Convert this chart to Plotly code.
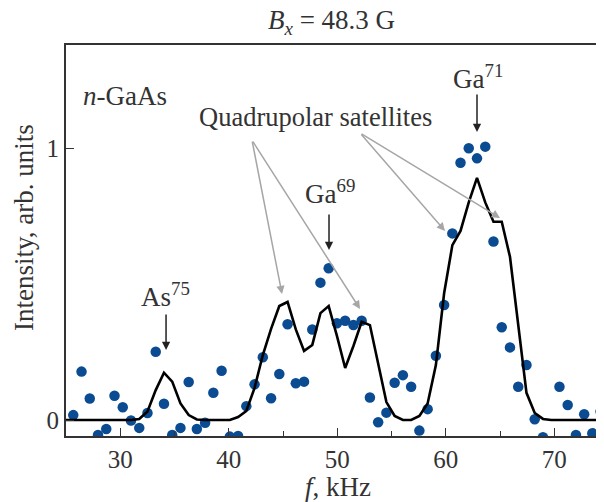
import plotly.graph_objects as go

# measured points
pts_x = [25.67, 26.43, 27.19, 27.95, 28.71, 29.47, 30.23, 30.99, 31.75, 32.51,
         33.27, 34.03, 34.79, 35.55, 36.31, 37.06, 37.82, 38.58, 39.34, 40.10,
         40.86, 41.62, 42.38, 43.14, 43.90, 44.66, 45.42, 46.18, 46.94, 47.70,
         48.45, 49.21, 49.97, 50.73, 51.49, 52.25, 53.01, 53.77, 54.53, 55.29,
         56.05, 56.81, 57.57, 58.33, 59.09, 59.85, 60.61, 61.36, 62.12, 62.88,
         63.64, 64.40, 65.16, 65.92, 66.68, 67.44, 68.20, 68.96, 70.48, 71.24,
         72.00, 72.76, 73.51, 74.27]
pts_y = [0.018, 0.178, 0.079, -0.055, -0.033, 0.089, 0.047, -0.002, -0.029, 0.026,
         0.251, 0.060, -0.055, -0.029, 0.140, -0.033, -0.010, 0.100, 0.181, -0.061,
         -0.059, 0.051, 0.131, 0.231, 0.080, 0.169, 0.352, 0.135, 0.141, 0.333,
         0.505, 0.558, 0.356, 0.365, 0.349, 0.365, 0.083, -0.008, 0.027, 0.137,
         0.165, 0.122, -0.039, 0.040, 0.236, 0.423, 0.686, 0.946, 0.999, 0.962,
         1.005, 0.656, 0.341, 0.267, 0.122, 0.202, 0.003, -0.063, 0.122, 0.055,
         -0.055, 0.021, -0.049, 0.031]

# fitted curve
fit_x = [25.00, 25.67, 26.43, 27.19, 27.95, 28.71, 29.47, 30.23, 30.99, 31.75, 32.51,
         33.27, 34.03, 34.79, 35.55, 36.31, 37.06, 37.82, 38.58, 39.34, 40.10,
         40.86, 41.62, 42.38, 43.14, 43.90, 44.66, 45.42, 46.18, 46.94, 47.70,
         48.45, 49.21, 49.97, 50.73, 51.49, 52.25, 53.01, 53.77, 54.53, 55.29,
         56.05, 56.81, 57.57, 58.33, 59.09, 59.85, 60.61, 61.36, 62.12, 62.88,
         63.64, 64.40, 65.16, 65.92, 66.68, 67.44, 68.20, 68.96, 69.72, 70.48,
         71.24, 72.00, 72.76, 73.51, 74.27, 75.03]
fit_y = [0, 0, 0, 0, 0, 0, 0, 0, 0, 0.004, 0.031,
         0.110, 0.174, 0.141, 0.061, 0.018, 0.002, 0, 0, 0, 0,
         0.011, 0.033, 0.118, 0.239, 0.335, 0.419, 0.434, 0.333, 0.254, 0.276,
         0.393, 0.419, 0.309, 0.191, 0.272, 0.361, 0.349, 0.202, 0.066, 0.015,
         0, 0, 0.015, 0.061, 0.202, 0.466, 0.643, 0.695, 0.800, 0.890,
         0.800, 0.729, 0.729, 0.600, 0.346, 0.100, 0.026, 0.004, 0, 0,
         0, 0, 0, 0, 0, 0]

x_ticks = [30, 40, 50, 60, 70]
y_ticks = [0, 1]

FONT = "Liberation Serif"
TXT = "#333333"

fig = go.Figure()
fig.add_trace(go.Scatter(x=pts_x, y=pts_y, mode="markers",
                         marker=dict(size=10.5, color="#0a4b91"),
                         showlegend=False, hoverinfo="skip"))
fig.add_trace(go.Scatter(x=fit_x, y=fit_y, mode="lines",
                         line=dict(color="black", width=2.6),
                         showlegend=False, hoverinfo="skip"))

ann = []
def label(x, y, text, size=27, xanchor="center"):
    ann.append(dict(x=x, y=y, xref="x", yref="y", text=text, showarrow=False,
                    xanchor=xanchor, yanchor="middle",
                    font=dict(family=FONT, size=size, color=TXT)))

def arrow(x, y, ax, ay, color, width=1.5):
    ann.append(dict(x=x, y=y, ax=ax, ay=ay, xref="x", yref="y", axref="x", ayref="y",
                    text="", showarrow=True, arrowhead=2, arrowsize=1.1,
                    arrowwidth=width, arrowcolor=color, standoff=0, startstandoff=0))

label(26.4, 1.19, "<i>n</i>-GaAs", xanchor="left")
label(47.95, 1.115, "Quadrupolar satellites", size=26.5)
label(49.37, 0.84, "Ga<sup>69</sup>")
label(62.97, 1.26, "Ga<sup>71</sup>")
label(34.2, 0.461, "As<sup>75</sup>")

arrow(34.22, 0.257, 34.22, 0.393, "#222222")
arrow(49.24, 0.625, 49.24, 0.761, "#222222")
arrow(62.88, 1.059, 62.88, 1.202, "#222222")

arrow(44.91, 0.463, 42.14, 1.029, "#a6a6a6")
arrow(52.10, 0.408, 42.14, 1.029, "#a6a6a6")
arrow(59.93, 0.695, 52.10, 1.055, "#a6a6a6")
arrow(65.00, 0.743, 52.10, 1.055, "#a6a6a6")

# title and axis titles
ann.append(dict(x=0.4926, y=1.058, xref="paper", yref="paper", showarrow=False,
                text="<i>B<sub>x</sub></i> = 48.3 G", xanchor="center", yanchor="middle",
                font=dict(family=FONT, size=27, color=TXT)))
ann.append(dict(x=0.5056, y=-0.13, xref="paper", yref="paper", showarrow=False,
                text="<i>f</i>, kHz", xanchor="center", yanchor="middle",
                font=dict(family=FONT, size=27, color=TXT)))
ann.append(dict(x=-0.078, y=0.532, xref="paper", yref="paper", showarrow=False,
                text="Intensity, arb. units", textangle=-90,
                xanchor="center", yanchor="middle",
                font=dict(family=FONT, size=27, color=TXT)))

# page body has an 8px margin: the drawing is shifted up/left by 8px to compensate
fig.update_layout(
    width=596, height=494,
    margin=dict(l=58, r=0, t=37, b=66, autoexpand=False),
    paper_bgcolor="white", plot_bgcolor="white",
    annotations=ann,
    xaxis=dict(range=[25, 74.585], tickvals=x_ticks, ticks="inside", ticklen=8,
               tickwidth=1.3, tickcolor=TXT,
               minor=dict(dtick=5, tick0=0, ticks="inside", ticklen=5, tickwidth=1.3, tickcolor=TXT),
               showline=True, linecolor=TXT, linewidth=2.2, mirror=True,
               showgrid=False, zeroline=False,
               tickfont=dict(family=FONT, size=25, color=TXT)),
    yaxis=dict(range=[-0.0588, 1.3787], tickvals=y_ticks, ticks="inside", ticklen=8,
               tickwidth=1.3, tickcolor=TXT,
               showline=True, linecolor=TXT, linewidth=2.2, mirror=False,
               showgrid=False, zeroline=False,
               tickfont=dict(family=FONT, size=25, color=TXT)),
)

fig.write_html("out.html")
